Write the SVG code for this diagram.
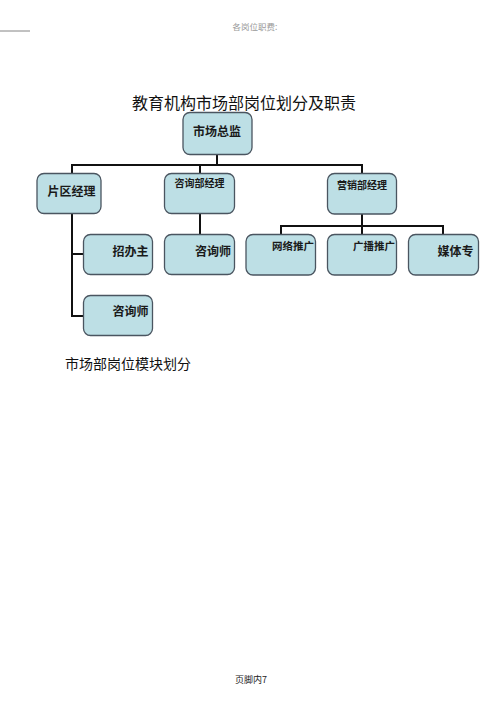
<svg xmlns="http://www.w3.org/2000/svg" width="500" height="707" viewBox="0 0 500 707">
<style>
.box{fill:#bddfe5;stroke:#4a5560;stroke-width:1.3}
.t{font-family:"Noto Sans CJK SC","Noto Sans",sans-serif;fill:#1a1a1a;font-weight:bold}
.c{fill:none;stroke:#111;stroke-width:2}
</style>
<rect width="500" height="707" fill="#fff"/>
<line x1="0" y1="31" x2="30" y2="31" stroke="#666" stroke-width="0.8"/>
<text x="255" y="30" text-anchor="middle" font-family="Noto Sans CJK SC,sans-serif" font-size="8.5" fill="#999">各岗位职费:</text>
<text x="244" y="109" text-anchor="middle" font-family="Noto Sans CJK SC,sans-serif" font-size="16" fill="#111">教育机构市场部岗位划分及职责</text>
<g id="connectors">
<path class="c" d="M217,154V165M72,173V165H362V173M200,165V173M72,213V316H84M72,254H84M200,213V234M362,214V226M281,234V226H443V234M362,226V234"/>
</g>
<g id="n1"><rect class="box" x="183" y="112.5" width="69" height="42" rx="7"/><text class="t" x="217" y="136" text-anchor="middle" font-size="12">市场总监</text></g>
<g id="n2"><rect class="box" x="37" y="173.5" width="64" height="40" rx="7"/><text class="t" x="71.5" y="196" text-anchor="middle" font-size="12">片区经理</text></g>
<g id="n3"><rect class="box" x="164.5" y="173.5" width="70" height="40" rx="7"/><text class="t" x="199.5" y="187" text-anchor="middle" font-size="10">咨询部经理</text></g>
<g id="n4"><rect class="box" x="327.5" y="173.5" width="69" height="40.5" rx="7"/><text class="t" x="362" y="189" text-anchor="middle" font-size="10">营销部经理</text></g>
<g id="n5"><rect class="box" x="83.5" y="234.5" width="69" height="40" rx="7"/><text class="t" x="148.5" y="256" text-anchor="end" font-size="12">招办主</text></g>
<g id="n6"><rect class="box" x="83.5" y="295.5" width="69" height="40" rx="7"/><text class="t" x="148.5" y="316" text-anchor="end" font-size="12">咨询师</text></g>
<g id="n7"><rect class="box" x="164.5" y="234.5" width="70" height="40" rx="7"/><text class="t" x="231" y="256" text-anchor="end" font-size="12">咨询师</text></g>
<g id="n8"><rect class="box" x="246" y="234.5" width="69.5" height="40.5" rx="7"/><text class="t" x="314" y="249.5" text-anchor="end" font-size="10.5">网络推广</text></g>
<g id="n9"><rect class="box" x="327.5" y="234.5" width="69" height="40.5" rx="7"/><text class="t" x="395" y="249.5" text-anchor="end" font-size="10.5">广播推广</text></g>
<g id="n10"><rect class="box" x="408.5" y="234.5" width="70" height="40.5" rx="7"/><text class="t" x="473.5" y="256" text-anchor="end" font-size="12">媒体专</text></g>
<text x="65" y="369" font-family="Noto Sans CJK SC,sans-serif" font-size="14" fill="#111">市场部岗位模块划分</text>
<text x="251" y="683" text-anchor="middle" font-family="Noto Sans CJK SC,sans-serif" font-size="9" fill="#222">页脚内7</text>
</svg>
